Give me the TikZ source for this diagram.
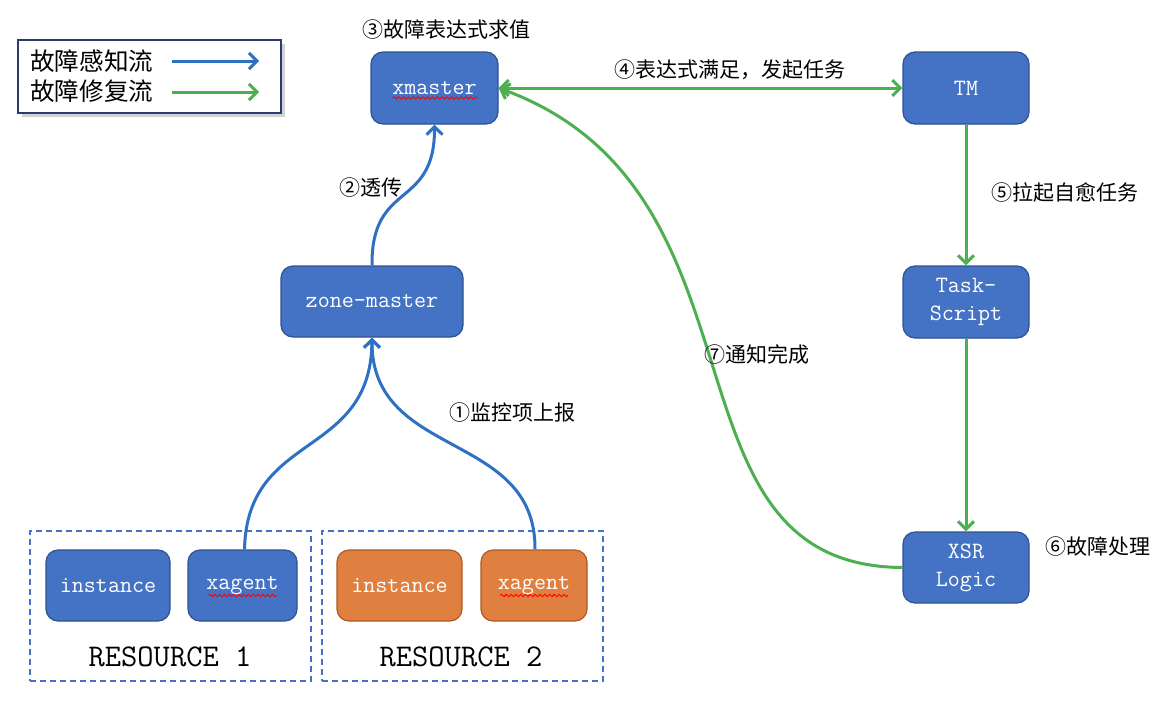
\documentclass[tikz,border=0pt]{standalone}
\usepackage{fontspec}
\setmainfont{Liberation Sans}
\newfontfamily\cjk{Noto Sans CJK SC}
\usetikzlibrary{arrows.meta,calc,decorations.pathmorphing,shadows}
\definecolor{boxblue}{RGB}{68,114,196}
\definecolor{boxblueline}{RGB}{47,82,143}
\definecolor{boxorange}{RGB}{224,128,64}
\definecolor{boxorangeline}{RGB}{174,90,33}
\definecolor{flowblue}{RGB}{46,112,196}
\definecolor{flowgreen}{RGB}{76,175,80}
\definecolor{legendline}{RGB}{40,60,110}
\begin{document}
\begin{tikzpicture}[x=0.5pt,y=-0.5pt,
  barb/.tip={Straight Barb[length=4pt,width=8pt,line width=1.5pt]},
  comp/.style={draw=boxblueline,fill=boxblue,line width=0.6pt,rounded corners=6pt,
    text=white,font=\ttfamily\fontsize{11.7}{14}\selectfont,align=center,inner sep=0pt},
  orangecomp/.style={comp,draw=boxorangeline,fill=boxorange},
  resbox/.style={draw=boxblue,dash pattern=on 3pt off 2pt,line width=0.7pt},
  reslabel/.style={font=\ttfamily\fontsize{15.8}{18}\selectfont,text=black},
  lbl/.style={font=\cjk\fontsize{10.5}{12}\selectfont,text=black,inner sep=0pt},
  legtext/.style={font=\cjk\fontsize{12.3}{15}\selectfont,text=black,inner sep=0pt,anchor=west},
  blueflow/.style={draw=flowblue,line width=1.5pt,-barb},
  greenflow/.style={draw=flowgreen,line width=1.5pt,-barb},
  spell/.style={draw=red,line width=0.45pt,decorate,decoration={snake,segment length=2.4pt,amplitude=0.6pt}}]
\useasboundingbox (0,0) rectangle (1176,712);

% legend
\node[draw=legendline,fill=white,line width=0.7pt,minimum width=131.5pt,minimum height=36.5pt,
  drop shadow={shadow xshift=2pt,shadow yshift=-2pt,opacity=0.35}] (legend) at (149.5,76.5) {};
\node[legtext] (legA) at (30,61) {故障感知流};
\node[legtext] (legB) at (30,91) {故障修复流};
\coordinate (la1) at (172,61); \coordinate (la2) at (259,61);
\coordinate (lb1) at (172,92); \coordinate (lb2) at (259,92);
\draw[blueflow] (la1) -- (la2);
\draw[greenflow] (lb1) -- (lb2);

% components
\node[comp,minimum width=63.5pt,minimum height=36pt] (xm) at (434.5,88) {xmaster};
\node[comp,minimum width=63pt,minimum height=36pt] (tm) at (966,88) {TM};
\node[comp,minimum width=63pt,minimum height=36pt] (ts) at (966,302) {Task-\\Script};
\node[comp,minimum width=63pt,minimum height=35.5pt] (xsr) at (966,567.5) {XSR\\Logic};
\node[comp,minimum width=91pt,minimum height=35.5pt] (zm) at (372,301.5) {zone-master};

% resources
\node[resbox,minimum width=140.5pt,minimum height=75pt] (r1) at (170.5,606) {};
\node[resbox,minimum width=140.5pt,minimum height=75pt] (r2) at (462.5,606) {};
\node[comp,minimum width=62pt,minimum height=35.5pt] (in1) at (108,585.5) {instance};
\node[comp,minimum width=54.5pt,minimum height=35.5pt] (xa1) at (242.5,585.5) {xagent};
\node[orangecomp,minimum width=62.5pt,minimum height=35.5pt] (in2) at (399.5,585.5) {instance};
\node[orangecomp,minimum width=53pt,minimum height=35.5pt] (xa2) at (534,585.5) {xagent};
\node[reslabel] (rl1) at (170,657) {RESOURCE 1};
\node[reslabel] (rl2) at (461,657) {RESOURCE 2};

% spell-check underlines
\draw[spell] ($(xm.center)+(-42,10)$) -- ($(xm.center)+(43,10)$);
\draw[spell] ($(xa1.center)+(-34,10)$) -- ($(xa1.center)+(34,10)$);
\draw[spell] ($(xa2.center)+(-34,10)$) -- ($(xa2.center)+(34,10)$);

% fault sensing flow
\draw[blueflow] ($(xa1.north)+(2,0)$) .. controls (247,430) and (371,460) .. (zm.south);
\draw[blueflow] ($(xa2.north)+(1,0)$) .. controls (536,430) and (371,460) .. (zm.south);
\draw[blueflow] (zm.north) .. controls (371,180) and (435,210) .. (xm.south);

% fault repair flow
\draw[draw=flowgreen,line width=1.5pt,barb-barb] (xm.east) -- (tm.west);
\draw[greenflow] (tm.south) -- (ts.north);
\draw[greenflow] (ts.south) -- (xsr.north);
\draw[greenflow] (xsr.west) .. controls (650,566) and (782,190) .. (xm.east);

% labels
\node[lbl] (l3) at (446,30) {③故障表达式求值};
\node[lbl] (l2) at (371,188) {②透传};
\node[lbl] (l1) at (512,413) {①监控项上报};
\node[lbl] (l4) at (730,70) {④表达式满足，发起任务};
\node[lbl] (l5) at (1065,193) {⑤拉起自愈任务};
\node[lbl] (l6) at (1098,547) {⑥故障处理};
\node[lbl] (l7) at (757,354) {⑦通知完成};
\end{tikzpicture}
\end{document}
